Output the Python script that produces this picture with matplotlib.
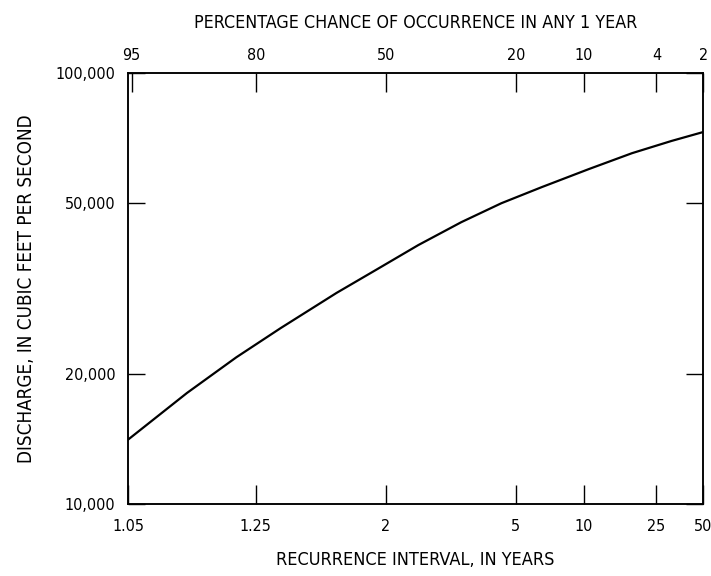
import numpy as np
import matplotlib
matplotlib.use("Agg")
import matplotlib.pyplot as plt
from matplotlib.ticker import NullLocator
from statistics import NormalDist

# ------------------------------------------------------------
# Flood-frequency curve: discharge vs recurrence interval
# (normal probability scale on x, log scale on y)
# ------------------------------------------------------------

# --- Data ---
recurrence_years = [1.05, 1.11, 1.2, 1.33, 1.6, 1.9, 2.4, 3.2, 4.4, 6.4, 10.6, 18, 31, 50]
discharge_cfs = [14100, 18100, 21900, 25600, 30900, 34900, 39900, 45100,
                 49900, 54400, 59900, 65200, 69600, 73000]

# --- Axis ticks ---
bottom_ticks = [1.05, 1.25, 2, 5, 10, 25, 50]
bottom_labels = ["1.05", "1.25", "2", "5", "10", "25", "50"]
top_pct = [95, 80, 50, 20, 10, 4, 2]
y_ticks = [10000, 20000, 50000, 100000]

ND = NormalDist()
_ppf = np.vectorize(ND.inv_cdf, otypes=[float])
_cdf = np.vectorize(ND.cdf, otypes=[float])


# recurrence interval -> standard normal variate of exceedance probability
def years_to_z(t):
    t = np.clip(np.asarray(t, dtype=float), 1.000001, 1e7)
    return _ppf(1.0 - 1.0 / t)


def z_to_years(z):
    z = np.clip(np.asarray(z, dtype=float), -5, 5)
    return 1.0 / (1.0 - _cdf(z))


plt.rcParams["font.family"] = ["DejaVu Sans"]
plt.rcParams["font.stretch"] = "condensed"

fig = plt.figure(figsize=(7.11, 5.76), dpi=100)
ax = fig.add_axes([0.180, 0.125, 0.809, 0.748])

ax.plot(recurrence_years, discharge_cfs, color="black", lw=1.6)

ax.set_xscale("function", functions=(years_to_z, z_to_years))
ax.set_xlim(1.05, 50)
ax.set_yscale("log")
ax.set_ylim(10000, 100000)

ax.set_xticks(bottom_ticks, labels=bottom_labels)
ax.xaxis.set_minor_locator(NullLocator())
ax.set_yticks(y_ticks, labels=[f"{v:,}" for v in y_ticks])
ax.yaxis.set_minor_locator(NullLocator())

ax.tick_params(axis="x", direction="in", length=13.5, width=1, pad=11,
               labelsize=11.5, top=False)
ax.tick_params(axis="y", direction="in", length=12.5, width=1, pad=9,
               labelsize=11.5, right=True)

# top axis: percentage chance of occurrence (same positions, 100 / years)
ax_top = ax.twiny()
ax_top.set_xscale("function", functions=(years_to_z, z_to_years))
ax_top.set_xlim(1.05, 50)
ax_top.set_xticks([100 / p for p in top_pct], labels=[str(p) for p in top_pct])
ax_top.xaxis.set_minor_locator(NullLocator())
ax_top.tick_params(axis="x", direction="in", length=13.5, width=1, pad=7,
                   labelsize=11.5)

for a in (ax, ax_top):
    for s in a.spines.values():
        s.set_linewidth(1.1)

ax.set_xlabel("RECURRENCE INTERVAL, IN YEARS", fontsize=13, labelpad=12)
ax.set_ylabel("DISCHARGE, IN CUBIC FEET PER SECOND", fontsize=13.5, labelpad=14)
ax_top.set_xlabel("PERCENTAGE CHANCE OF OCCURRENCE IN ANY 1 YEAR", fontsize=12.8, labelpad=15)

fig.savefig("out.png", dpi=100)
plt.close(fig)
